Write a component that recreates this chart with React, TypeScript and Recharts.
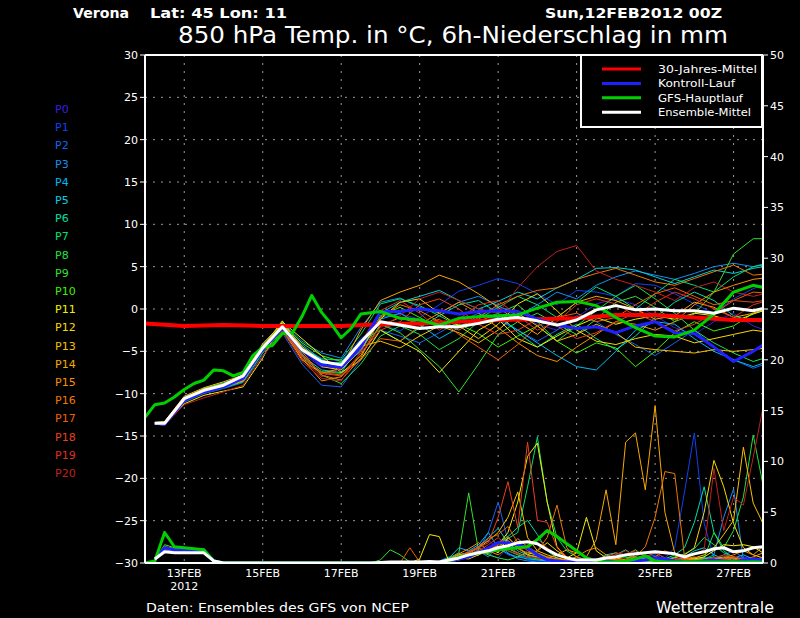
import React from 'react';
import { LineChart, Line, XAxis, YAxis, CartesianGrid, ReferenceLine } from 'recharts';

// forecast hours since 12FEB2012 00Z
const TEMP_HOURS = [6, 12, 24, 36, 48, 60, 72, 84, 96, 108, 120, 132, 144, 156, 168, 180, 192, 204, 216, 228, 240, 252, 264, 276, 288, 300, 312, 324, 336, 348, 360, 372, 384];
const GFS_HOURS = [0, 6, 12, 18, 24, 30, 36, 42, 48, 54, 60, 66, 72, 78, 84, 90, 96, 102, 108, 114, 120, 126, 132, 144, 156, 168, 180, 192, 204, 216, 228, 240, 252, 264, 276, 288, 300, 312, 324, 336, 348, 360, 372, 384];
const PRECIP_HOURS = [6, 12, 18, 24, 30, 36, 42, 48, 54, 60, 66, 72, 78, 84, 90, 96, 102, 108, 114, 120, 126, 132, 138, 144, 150, 156, 162, 168, 174, 180, 186, 192, 198, 204, 210, 216, 222, 228, 234, 240, 246, 252, 258, 264, 270, 276, 282, 288, 294, 300, 306, 312, 318, 324, 330, 336, 342, 348, 354, 360, 366, 372, 378, 384];
const GFS_PRECIP_HOURS = [0, ...PRECIP_HOURS];
const CLIM_HOURS = [0, 24, 48, 72, 96, 120, 144, 168, 192, 216, 240, 264, 288, 312, 336, 360, 384];

const DATE_TICKS = [24, 72, 120, 168, 216, 264, 312, 360];
const DATE_LABELS = ['13FEB', '15FEB', '17FEB', '19FEB', '21FEB', '23FEB', '25FEB', '27FEB'];
const TEMP_TICKS = [-30, -25, -20, -15, -10, -5, 0, 5, 10, 15, 20, 25, 30];
const PRECIP_TICKS = [0, 5, 10, 15, 20, 25, 30, 35, 40, 45, 50];

const MEMBER_NAMES = ['P0', 'P1', 'P2', 'P3', 'P4', 'P5', 'P6', 'P7', 'P8', 'P9', 'P10', 'P11', 'P12', 'P13', 'P14', 'P15', 'P16', 'P17', 'P18', 'P19', 'P20'];
const MEMBER_COLORS = ['#3a1ee0', '#1040f0', '#1466f0', '#1490f0', '#00b8f0', '#00d2e0', '#00e0a0', '#00e070', '#20e040', '#30e030', '#40f000', '#f0f000', '#f8d800', '#f8c000', '#f8a800', '#f89000', '#f07800', '#f06000', '#e84020', '#e03020', '#c02020'];

// 850 hPa temperature, members
const T_P0 = [-13.4, -13.6, -10.8, -9.7, -9.2, -8.4, -4.9, -2.3, -5.2, -6.9, -7.0, -4.6, -1.0, -0.6, -1.2, -2.0, -1.5, -0.8, 0.3, -0.5, -1.8, -2.5, -1.0, 0.6, 1.2, 0.5, -0.8, -2.2, -3.0, -1.5, -0.5, -2.0, -2.8];
const T_P1 = [-13.5, -13.4, -10.5, -9.4, -8.9, -8.0, -4.4, -1.9, -4.5, -5.8, -6.2, -3.5, -1.8, -2.6, -1.0, 0.5, 2.1, 2.8, 3.6, 3.0, 1.8, 0.5, 2.2, 2.0, 1.5, 3.0, 2.8, 1.8, 0.6, -0.5, 1.2, 2.4, 3.3];
const T_P2 = [-13.6, -13.7, -11.0, -10.0, -9.4, -8.7, -5.5, -2.8, -6.5, -9.0, -9.2, -6.0, -2.5, -3.2, -4.0, -2.8, -1.5, -0.5, -1.3, -2.5, -3.8, -2.5, -0.8, -1.5, -3.0, -4.2, -5.5, -4.0, -2.5, -4.5, -6.0, -7.0, -6.2];
const T_P3 = [-13.5, -13.5, -10.4, -9.5, -8.7, -8.0, -4.2, -1.6, -3.8, -5.2, -5.8, -2.2, 0.8, 1.3, 0.2, -0.5, 0.8, 1.5, 0.4, -0.8, 0.5, 2.0, 1.2, 2.8, 3.8, 4.5, 4.0, 3.5, 4.2, 5.0, 5.4, 5.0, 5.6];
const T_P4 = [-13.4, -13.3, -10.6, -9.4, -8.8, -8.3, -4.5, -2.0, -4.2, -6.0, -6.8, -5.0, -1.2, -0.5, -1.8, -3.5, -2.2, -0.8, -1.0, -2.5, -4.0, -5.5, -6.8, -7.2, -5.0, -2.5, -1.5, -1.8, -3.5, -5.0, -6.0, -6.8, -6.0];
const T_P5 = [-13.5, -13.6, -10.9, -9.8, -9.1, -8.5, -5.0, -2.4, -5.5, -7.2, -7.5, -4.2, -0.5, 0.8, 1.5, 2.2, 1.0, 0.0, 0.9, 2.0, 1.2, 2.5, 3.5, 4.8, 4.9, 4.6, 3.8, 3.0, 3.8, 4.6, 4.2, 4.8, 5.2];
const T_P6 = [-13.5, -13.5, -10.7, -9.7, -9.0, -8.1, -4.7, -2.2, -5.0, -6.5, -6.3, -3.8, -2.5, -3.8, -2.2, -0.8, 0.5, 1.0, -0.5, -2.8, -4.5, -3.0, -1.8, -3.5, -4.8, -3.2, -1.0, 0.8, 2.0, 1.0, -0.8, -1.5, -1.0];
const T_P7 = [-13.6, -13.4, -10.5, -9.5, -8.9, -8.3, -4.6, -2.1, -4.6, -5.9, -6.0, -3.0, 0.6, 1.2, 0.4, -0.8, -2.0, -1.2, 0.2, 1.5, 0.5, -1.0, 0.8, 2.6, 1.5, 0.0, 1.8, 3.5, 2.8, 2.0, 3.8, 5.0, 5.4];
const T_P8 = [-13.5, -13.5, -10.6, -9.6, -9.0, -8.2, -4.6, -2.0, -5.3, -7.8, -8.8, -6.5, -3.2, -2.0, -3.0, -4.8, -3.5, -1.5, -0.5, 0.5, -1.5, -3.8, -2.0, -0.2, 1.5, 2.8, 1.2, -0.5, -2.5, -4.0, -5.2, -6.2, -5.5];
const T_P9 = [-13.4, -13.6, -10.8, -9.8, -9.3, -8.6, -5.2, -2.6, -5.8, -7.4, -7.6, -5.5, -1.8, -2.8, -4.8, -6.8, -9.8, -6.5, -3.0, -1.5, -0.5, -1.8, -3.0, -1.2, 0.8, 1.5, 0.2, -1.5, -0.6, 2.0, 6.5, 8.3, 8.3];
const T_P10 = [-13.5, -13.5, -10.5, -9.4, -8.8, -8.0, -4.3, -1.8, -4.0, -5.5, -6.2, -4.8, -0.8, 0.2, -1.0, -2.2, -1.8, -2.9, -4.5, -3.2, -2.0, -3.8, -5.2, -4.0, -4.6, -6.8, -5.0, -2.8, -1.5, -2.6, -2.0, -0.5, 0.0];
const T_P11 = [-13.6, -13.7, -11.2, -10.2, -9.7, -9.2, -5.8, -1.5, -3.5, -5.5, -7.5, -6.0, -2.5, -3.8, -5.0, -7.5, -5.0, -2.5, -1.2, -3.5, -4.5, -3.2, -2.0, -1.0, -1.8, -1.2, -0.8, -1.2, -0.5, -0.8, -1.5, -0.6, 0.2];
const T_P12 = [-13.5, -13.5, -10.6, -9.7, -9.0, -8.2, -4.5, -1.4, -4.6, -6.8, -7.2, -4.8, -1.2, 0.8, 1.2, -0.5, -2.0, -3.5, -1.8, 0.6, 1.8, -0.2, -2.5, -3.8, -4.2, -3.5, -3.0, -3.2, -4.0, -3.5, -3.0, -2.5, -2.8];
const T_P13 = [-13.4, -13.3, -10.3, -9.3, -8.6, -7.8, -4.1, -1.7, -4.4, -6.2, -6.6, -4.4, -3.8, -4.6, -3.2, -2.0, -2.8, -4.0, -2.5, -0.5, -2.0, -3.8, -3.0, -1.8, -2.8, -4.5, -4.8, -5.0, -5.2, -4.8, -5.0, -4.8, -4.5];
const T_P14 = [-13.5, -13.6, -10.9, -9.9, -9.2, -8.5, -4.8, -2.3, -6.0, -7.6, -7.0, -2.5, 1.0, 2.0, 2.8, 4.0, 3.2, 1.8, 0.2, -1.5, -3.0, -1.0, 0.8, 1.5, 1.0, 0.0, -1.2, -0.8, 0.8, 0.2, -1.0, -0.5, 0.3];
const T_P15 = [-13.5, -13.4, -10.6, -9.6, -9.0, -8.3, -4.6, -2.2, -5.8, -8.5, -8.0, -5.5, -2.0, -1.0, -1.8, -0.5, 0.8, -0.5, -2.2, -4.0, -5.5, -6.2, -4.5, -3.0, -1.5, -1.8, -2.5, -1.5, 0.5, 2.0, 2.8, 3.5, 3.8];
const T_P16 = [-13.6, -13.6, -10.8, -9.8, -9.1, -8.4, -4.8, -2.4, -5.0, -7.8, -8.4, -5.8, -1.0, 0.5, -0.2, -1.5, -2.5, -1.0, 0.5, 1.5, 2.2, 2.5, 3.5, 4.2, 4.8, 4.0, 3.2, 2.8, 3.6, 4.4, 5.2, 4.0, 4.2];
const T_P17 = [-13.5, -13.5, -10.5, -9.5, -8.9, -8.0, -4.4, -2.0, -5.6, -7.5, -7.8, -6.0, -3.5, -3.8, -2.0, -1.2, -3.0, -4.5, -6.0, -4.2, -2.0, -1.0, -0.5, -1.5, -1.0, 0.5, 1.8, 2.5, 1.5, 0.5, 1.0, 2.0, 1.8];
const T_P18 = [-13.5, -13.4, -10.6, -9.5, -8.9, -8.1, -4.6, -2.1, -5.4, -7.6, -7.9, -5.2, -2.5, -1.5, 0.5, 1.2, 0.0, -1.8, -3.0, -2.5, -1.2, -2.0, -3.5, -2.8, -1.5, -0.5, -1.5, -2.6, -1.8, -0.5, 1.0, 0.8, 1.2];
const T_P19 = [-13.4, -13.5, -10.7, -9.7, -9.1, -8.3, -4.7, -2.3, -5.8, -8.0, -7.0, -4.0, -0.2, 1.0, -0.5, -2.5, -1.2, 0.5, 1.0, -0.8, -2.5, -1.5, 0.5, 1.2, 0.6, -0.8, 0.8, 2.0, 1.2, 0.0, -1.0, 0.5, 1.2];
const T_P20 = [-13.6, -13.7, -11.3, -10.5, -9.8, -9.0, -5.6, -2.6, -6.2, -8.2, -8.5, -5.0, -2.2, -0.8, 1.2, 2.0, 1.0, 0.0, -0.5, 2.5, 5.0, 6.8, 7.5, 4.5, 3.5, 2.8, 2.0, 1.0, 2.5, 3.2, 2.0, 1.5, 2.0];
const MEMBER_TEMPS = [T_P0, T_P1, T_P2, T_P3, T_P4, T_P5, T_P6, T_P7, T_P8, T_P9, T_P10, T_P11, T_P12, T_P13, T_P14, T_P15, T_P16, T_P17, T_P18, T_P19, T_P20];

const T_CLIM = [-1.7, -2.0, -1.9, -2.0, -2.0, -2.0, -1.8, -1.7, -1.5, -1.3, -1.2, -1.1, -0.7, -0.7, -1.0, -1.3, -1.3];
const T_CTRL = [-13.5, -13.6, -10.8, -9.8, -9.2, -8.2, -4.8, -2.2, -4.8, -6.6, -6.9, -4.5, -0.3, -0.3, 0.0, -0.2, -0.6, -0.3, -0.2, -0.3, -1.2, -1.9, -2.3, -2.1, -2.8, -2.0, -1.5, -2.8, -2.9, -4.5, -6.2, -5.0, -3.5];
const T_GFS = [-12.8, -11.3, -11.1, -10.4, -9.5, -8.8, -8.4, -7.2, -7.3, -7.9, -7.5, -5.5, -4.5, -4.3, -2.9, -2.9, -0.9, 1.6, -0.4, -1.8, -3.4, -2.3, -0.6, -0.3, -1.1, -1.3, -1.9, -1.1, -0.9, -0.8, -0.7, 0.1, 0.8, 0.9, 0.4, -1.0, -2.2, -3.2, -3.3, -2.5, -0.6, 2.0, 2.8, 2.3];
const T_MEAN = [-13.5, -13.5, -10.6, -9.6, -9.0, -7.9, -4.6, -2.1, -4.8, -6.2, -6.6, -3.9, -1.5, -1.9, -2.3, -2.1, -2.1, -1.7, -1.2, -1.0, -1.4, -1.9, -1.3, -0.1, 0.4, -0.1, 0.0, -0.2, -0.2, -0.5, 0.1, -0.2, 0.3];

// 6h precipitation (mm), members
const PR_P0 = [0.3, 1.6, 1.4, 1.3, 1.2, 1.3, 0.2, 0, 0, 0, 0, 0, 0, 0, 0, 0, 0, 0, 0, 0, 0, 0, 0, 0, 0, 0, 0, 0, 0, 0, 0.2, 0.6, 1.2, 1.8, 2.2, 1.5, 0.8, 0.5, 1.2, 0.6, 0.3, 0.2, 0.1, 0, 0.1, 0.3, 0.5, 0.4, 0.2, 0.1, 0.3, 0.6, 0.4, 0.2, 0.1, 0.3, 0.5, 0.2, 0.1, 0.3, 0.6, 0.4, 0.2, 0.3];
const PR_P1 = [0.2, 1.4, 1.2, 1.2, 1.1, 1.2, 0.1, 0, 0, 0, 0, 0, 0, 0, 0, 0, 0, 0, 0, 0, 0, 0, 0, 0, 0, 0, 0, 0, 0, 0, 0.4, 1.0, 0.6, 1.4, 0.9, 0.5, 1.6, 0.8, 0.3, 0.2, 0.1, 0, 0, 0.2, 0.4, 0.2, 0.1, 0, 0.2, 0.3, 0.6, 1.0, 0.5, 1.5, 7.0, 12.8, 3.9, 0.5, 0.2, 0.1, 0, 0.2, 0.3, 0.2];
const PR_P2 = [0.3, 1.5, 1.3, 1.4, 1.3, 1.2, 0.2, 0, 0, 0, 0, 0, 0, 0, 0, 0, 0, 0, 0, 0, 0, 0, 0, 0, 0, 0, 0, 0, 0, 0, 0.3, 0.8, 0.8, 1.3, 3.0, 6.0, 2.2, 0.8, 0.5, 0.3, 0.2, 0.1, 0, 0, 0.2, 0.4, 0.3, 0.1, 0, 0.2, 0.5, 0.8, 0.3, 0.1, 0.2, 0.4, 0.6, 0.3, 0.8, 1.2, 0.5, 0.3, 0.2, 0.4];
const PR_P3 = [0.3, 1.4, 1.3, 1.3, 1.2, 1.2, 0.2, 0, 0, 0, 0, 0, 0, 0, 0, 0, 0, 0, 0, 0, 0, 0, 0, 0, 0, 0, 0, 0, 0, 0.2, 0.6, 0.4, 0.8, 1.2, 0.6, 1.8, 1.0, 0.4, 0.2, 0.1, 0, 0, 0.2, 0.1, 0, 0.3, 0.5, 0.2, 0.1, 0, 0.2, 0.4, 0.3, 0.1, 0.2, 0.5, 0.4, 0.8, 4.5, 7.3, 0.3, 0.4, 0.5, 0.6];
const PR_P4 = [0.3, 1.5, 1.4, 1.2, 1.2, 1.3, 0.2, 0, 0, 0, 0, 0, 0, 0, 0, 0, 0, 0, 0, 0, 0, 0, 0, 0, 0, 0, 0, 0, 0, 0, 0.5, 1.5, 1.2, 1.8, 3.0, 1.5, 0.9, 0.6, 0.4, 0.3, 0.2, 0.1, 0, 0, 0.1, 0.2, 0.3, 0.5, 0.8, 0.6, 0.4, 0.2, 0.1, 0.3, 0.5, 0.4, 0.2, 0.1, 0.3, 0.5, 0.8, 0.4, 0.2, 0.1];
const PR_P5 = [0.2, 1.3, 1.2, 1.2, 1.1, 1.1, 0.1, 0, 0, 0, 0, 0, 0, 0, 0, 0, 0, 0, 0, 0, 0, 0, 0, 0, 0, 0, 0, 0, 0, 0, 0.3, 0.8, 1.0, 1.6, 2.5, 3.4, 2.0, 1.2, 0.8, 0.5, 0.3, 0.2, 0.1, 0, 0, 0.2, 0.8, 1.0, 0.6, 0.4, 0.2, 0.1, 0.2, 0.3, 0.6, 1.2, 1.5, 0.8, 0.4, 0.2, 0.1, 0.2, 0.3, 0.3];
const PR_P6 = [0.3, 1.5, 1.3, 1.3, 1.2, 1.3, 0.2, 0, 0, 0, 0, 0, 0, 0, 0, 0, 0, 0, 0, 0, 0, 0, 0, 0, 0, 0, 0, 0, 0, 0, 0.2, 0.5, 0.8, 1.2, 1.5, 2.0, 2.6, 3.5, 4.2, 2.8, 1.2, 0.5, 0.2, 0.1, 0, 0.2, 0.5, 0.8, 1.3, 0.6, 0.3, 0.2, 0.4, 0.8, 1.5, 4.0, 7.5, 3.0, 1.2, 0.5, 0.3, 0.2, 0.4, 0.3];
const PR_P7 = [0.3, 1.4, 1.2, 1.3, 1.2, 1.2, 0.2, 0, 0, 0, 0, 0, 0, 0, 0, 0, 0, 0, 0, 0, 0, 0, 0, 0, 0, 0, 0, 0, 0, 0, 0.2, 0.4, 0.8, 1.0, 1.4, 1.8, 2.4, 3.0, 7.5, 12.4, 6.0, 2.5, 1.2, 0.6, 0.3, 0.2, 0.4, 0.6, 0.8, 0.5, 0.3, 0.2, 0.3, 0.6, 0.9, 1.4, 2.5, 1.8, 1.0, 0.6, 0.4, 0.3, 0.2, 0.2];
const PR_P8 = [0.3, 1.6, 1.4, 1.3, 1.3, 1.3, 0.2, 0, 0, 0, 0, 0, 0, 0, 0, 0, 0, 0, 0, 0, 0, 0, 0, 0, 0, 0, 0, 0, 0, 0, 0.2, 0.4, 0.6, 0.9, 1.2, 1.6, 1.2, 0.8, 0.6, 0.9, 0.6, 0.3, 0.1, 0, 0, 0.1, 0.2, 0.3, 0.8, 1.3, 0.6, 0.3, 0.2, 0.1, 0.2, 0.3, 0.5, 3.0, 1.5, 3.2, 6.5, 12.6, 7.7, 5.0];
const PR_P9 = [0.3, 1.4, 1.3, 1.2, 1.2, 1.2, 0.2, 0, 0, 0, 0, 0, 0, 0, 0, 0, 0, 0, 0, 0, 0, 0, 0, 0.3, 1.3, 0.8, 0.1, 0, 0, 0.1, 0.5, 1.0, 6.9, 1.2, 0.8, 0.5, 0.3, 0.6, 1.0, 0.8, 0.4, 0.2, 0.1, 0, 0, 0.1, 0.2, 0.5, 0.6, 0.4, 0.2, 0.1, 0.3, 0.5, 0.3, 0.2, 0.1, 0.2, 0.4, 0.6, 0.3, 0.2, 0.1, 0.2];
const PR_P10 = [0.3, 1.8, 1.5, 1.4, 1.3, 1.4, 0.2, 0, 0, 0, 0, 0, 0, 0, 0, 0, 0, 0, 0, 0, 0, 0, 0, 0, 0, 0, 0, 0, 0, 0, 0.3, 0.6, 1.0, 0.8, 1.5, 2.0, 1.4, 1.0, 0.6, 0.4, 0.3, 0.2, 0, 0, 0.1, 0.2, 0.4, 0.3, 0.2, 0.1, 0, 0.1, 0.2, 0.3, 0.1, 0.2, 0.4, 0.6, 0.3, 0.2, 0.1, 0.2, 0.5, 0.4];
const PR_P11 = [0.3, 1.5, 1.3, 1.3, 1.2, 1.3, 0.2, 0, 0, 0, 0, 0, 0, 0, 0, 0, 0, 0, 0, 0, 0, 0, 0, 0, 0, 0, 0, 0.4, 2.8, 2.6, 0.1, 0.3, 0.6, 0.8, 1.2, 1.8, 3.0, 6.0, 10.5, 11.8, 6.0, 1.6, 0.5, 1.0, 4.5, 1.2, 0.5, 0.3, 0.2, 0.1, 0.2, 0.3, 0.2, 0.1, 0.2, 0.4, 0.6, 1.2, 1.8, 1.7, 1.8, 1.6, 1.0, 0.8];
const PR_P12 = [0.3, 1.4, 1.3, 1.3, 1.2, 1.2, 0.2, 0, 0, 0, 0, 0, 0, 0, 0, 0, 0, 0, 0, 0, 0, 0, 0, 0, 0, 0, 0, 0, 0, 0, 0.2, 0.5, 0.4, 0.8, 1.5, 1.0, 2.5, 1.6, 0.8, 1.2, 2.0, 1.2, 0.6, 0.3, 0.2, 0.1, 0.3, 0.5, 0.3, 0.2, 0.4, 0.6, 0.3, 0.5, 0.8, 1.5, 5.0, 10.1, 7.5, 3.9, 1.5, 0.8, 0.5, 0.4];
const PR_P13 = [0.3, 1.5, 1.4, 1.3, 1.3, 1.3, 0.2, 0, 0, 0, 0, 0, 0, 0, 0, 0, 0, 0, 0, 0, 0, 0, 0, 0, 0, 0, 0, 0, 0, 0, 0.3, 0.8, 1.0, 1.5, 2.2, 3.0, 4.5, 7.0, 2.5, 1.2, 0.8, 0.5, 0.3, 0.2, 0.1, 0.1, 0.3, 0.2, 0.1, 0.2, 0.3, 0.2, 0.1, 0.2, 0.3, 0.5, 0.8, 1.5, 2.8, 4.2, 11.4, 5.9, 3.9, 3.0];
const PR_P14 = [0.3, 1.5, 1.3, 1.4, 1.3, 1.3, 0.2, 0, 0, 0, 0, 0, 0, 0, 0, 0, 0, 0, 0, 0, 0, 0, 0, 0, 0, 0, 0, 0, 0, 0, 0.2, 0.5, 0.8, 1.2, 0.9, 1.6, 2.2, 1.5, 0.8, 0.6, 0.5, 0.8, 1.3, 1.0, 0.6, 2.3, 7.2, 1.8, 11.9, 12.8, 7.2, 15.5, 5.0, 1.0, 0.5, 0.3, 0.2, 0.4, 0.6, 0.5, 0.3, 0.6, 1.0, 1.2];
const PR_P15 = [0.3, 1.6, 1.4, 1.3, 1.2, 1.3, 0.2, 0, 0, 0, 0, 0, 0, 0, 0, 0, 0, 0, 0, 0, 0, 0, 0, 0, 0, 0, 0, 0, 0, 0, 0.4, 0.9, 1.4, 2.0, 1.2, 0.8, 1.5, 2.4, 1.6, 1.0, 0.6, 0.4, 0.3, 0.6, 1.2, 1.5, 0.8, 0.4, 0.2, 0.1, 0.3, 0.5, 0.3, 0.2, 0.4, 0.6, 0.3, 0.2, 0.5, 0.8, 1.2, 0.8, 1.6, 2.8];
const PR_P16 = [0.3, 1.4, 1.2, 1.3, 1.2, 1.2, 0.2, 0, 0, 0, 0, 0, 0, 0, 0, 0, 0, 0, 0, 0, 0, 0, 0, 0, 0, 0, 0, 0, 0, 0, 0.2, 0.6, 0.9, 1.5, 1.0, 1.8, 2.6, 1.4, 1.0, 1.2, 2.5, 5.7, 1.5, 0.6, 0.3, 0.2, 0.4, 0.3, 0.4, 0.6, 1.6, 4.5, 9.0, 8.8, 0.6, 0.3, 0.2, 0.1, 0.3, 0.4, 0.2, 0.3, 0.5, 0.4];
const PR_P17 = [0.3, 1.5, 1.3, 1.3, 1.2, 1.2, 0.2, 0, 0, 0, 0, 0, 0, 0, 0, 0, 0, 0, 0, 0, 0, 0, 0, 0, 0, 0, 1.5, 0.1, 0, 0, 0.3, 0.7, 1.1, 1.6, 2.4, 2.8, 3.6, 2.0, 1.2, 0.8, 0.5, 0.3, 0.2, 0.1, 0.2, 0.4, 0.6, 1.0, 0.8, 0.5, 0.3, 0.6, 1.2, 0.8, 0.4, 0.2, 0.1, 0.2, 0.4, 0.6, 0.3, 0.2, 0.4, 0.3];
const PR_P18 = [0.3, 1.4, 1.3, 1.3, 1.2, 1.3, 0.2, 0, 0, 0, 0, 0, 0, 0, 0, 0, 0, 0, 0, 0, 0, 0, 0, 0, 0, 0, 0, 0, 0, 0, 0.3, 0.6, 1.0, 1.5, 2.0, 4.5, 8.0, 3.5, 11.9, 4.2, 4.0, 1.5, 0.6, 0.3, 0.2, 0.3, 0.5, 0.4, 0.2, 0.4, 0.6, 1.0, 0.5, 0.3, 0.2, 0.1, 0.2, 0.3, 0.4, 0.2, 0.3, 0.5, 0.4, 0.6];
const PR_P19 = [0.3, 1.5, 1.3, 1.3, 1.2, 1.3, 0.2, 0, 0, 0, 0, 0, 0, 0, 0, 0, 0, 0, 0, 0, 0, 0, 0, 0, 0, 0, 0, 0, 0, 0, 0.2, 0.5, 0.8, 1.2, 1.8, 2.5, 1.6, 1.0, 1.8, 2.4, 1.5, 0.8, 0.4, 0.2, 0.1, 0.2, 0.3, 0.6, 0.9, 1.2, 0.6, 0.3, 0.2, 0.4, 0.3, 0.2, 0.3, 0.5, 0.8, 0.6, 0.4, 0.3, 0.5, 0.8];
const PR_P20 = [0.3, 1.4, 1.2, 1.2, 1.1, 1.2, 0.2, 0, 0, 0, 0, 0, 0, 0, 0, 0, 0, 0, 0, 0, 0, 0, 0, 0, 0, 0, 0, 0, 0, 0, 0.2, 0.5, 0.7, 1.0, 1.4, 1.8, 1.2, 0.9, 0.6, 0.5, 0.3, 0.2, 0.1, 0, 0.1, 0.3, 0.5, 0.8, 1.2, 0.8, 0.5, 0.3, 0.2, 0.4, 0.6, 0.9, 1.3, 9.3, 3.2, 6.5, 5.7, 10.4, 15.3, 16.0];
const MEMBER_PRECIP = [PR_P0, PR_P1, PR_P2, PR_P3, PR_P4, PR_P5, PR_P6, PR_P7, PR_P8, PR_P9, PR_P10, PR_P11, PR_P12, PR_P13, PR_P14, PR_P15, PR_P16, PR_P17, PR_P18, PR_P19, PR_P20];

const PR_CTRL = [0.3, 1.5, 1.3, 1.3, 1.2, 1.3, 0.2, 0, 0, 0, 0, 0, 0, 0, 0, 0, 0, 0, 0, 0, 0, 0, 0, 0, 0, 0, 0, 0, 0, 0, 0.2, 0.4, 0.6, 1.0, 1.5, 2.0, 2.0, 1.8, 1.5, 0.8, 0.3, 0.2, 0.1, 0.1, 0.2, 0.3, 0.2, 0.1, 0.1, 0.2, 0.3, 0.5, 0.4, 0.2, 0.1, 0.1, 0.2, 0.3, 0.2, 0.1, 0.3, 0.4, 0.3, 0.2];
const PR_MEAN = [0.4, 1.1, 1.0, 1.0, 1.0, 1.0, 0.2, 0, 0, 0, 0, 0, 0, 0, 0, 0, 0, 0, 0, 0, 0, 0, 0, 0.05, 0.1, 0.1, 0.1, 0.1, 0.15, 0.1, 0.3, 0.5, 0.8, 1.0, 1.2, 1.5, 1.7, 2.0, 2.1, 1.9, 1.3, 0.8, 0.5, 0.3, 0.3, 0.3, 0.5, 0.6, 0.8, 0.9, 1.0, 1.1, 1.0, 0.9, 0.6, 0.9, 1.1, 1.4, 1.5, 1.1, 1.2, 1.5, 1.6, 1.6];
const PR_GFS = [0, 0.2, 3.0, 1.6, 1.5, 1.4, 1.3, 0.2, 0, 0, 0, 0, 0, 0, 0, 0, 0, 0, 0, 0, 0, 0, 0, 0, 0, 0, 0, 0, 0, 0, 0, 0.2, 0.6, 0.8, 1.0, 1.1, 1.3, 1.4, 1.5, 1.6, 2.3, 3.2, 2.6, 1.9, 1.2, 0.5, 0.2, 0.1, 0.1, 0.2, 0.4, 0.7, 0.2, 0.1, 0.1, 0.1, 0.1, 0.1, 0.1, 0.1, 0.1, 0.1, 0.1, 0.1, 0.1];

const LEGEND_ITEMS = [
  { label: '30-Jahres-Mittel', color: '#ff0000', width: 99 },
  { label: 'Kontroll-Lauf', color: '#2020ff', width: 77 },
  { label: 'GFS-Hauptlauf', color: '#00d000', width: 85 },
  { label: 'Ensemble-Mittel', color: '#ffffff', width: 93 },
];

const FONT = '"DejaVu Sans", sans-serif';

const series = (hours: number[], values: number[]) => hours.map((h, i) => ({ h, v: values[i] }));

const minusFmt = (v: number) => (v < 0 ? '\u2212' + Math.abs(v) : String(v));

const DateTick = (props: any) => {
  const { x, payload } = props;
  const idx = DATE_TICKS.indexOf(payload.value);
  return (
    <g>
      <text x={x} y={577} textAnchor="middle" fill="#fff" fontSize={11} fontFamily={FONT}>
        {DATE_LABELS[idx]}
      </text>
      {idx === 0 && (
        <text x={x} y={590} textAnchor="middle" fill="#fff" fontSize={11} fontFamily={FONT}>
          2012
        </text>
      )}
    </g>
  );
};

const App = () => {
  const line = (key: string, data: any[], axis: string, color: string, width: number) => (
    <Line
      key={key}
      data={data}
      dataKey="v"
      xAxisId="x"
      yAxisId={axis}
      stroke={color}
      strokeWidth={width}
      dot={false}
      activeDot={false}
      isAnimationActive={false}
      strokeLinejoin="round"
    />
  );

  return (
    <div style={{ position: 'absolute', left: 0, top: 0, width: 800, height: 618, background: '#000', overflow: 'hidden' }}>
      <LineChart width={800} height={618} margin={{ top: 55, right: 0, bottom: 0, left: 100 }}>
        <CartesianGrid xAxisId="x" yAxisId="t" stroke="#9a9a9a" strokeDasharray="2 6" />
        <XAxis
          xAxisId="x"
          type="number"
          dataKey="h"
          domain={[0, 378]}
          allowDataOverflow
          ticks={DATE_TICKS}
          interval={0}
          tick={<DateTick />}
          tickLine={false}
          axisLine={{ stroke: '#fff', strokeWidth: 2 }}
          height={55}
        />
        <YAxis
          yAxisId="t"
          orientation="left"
          domain={[-30, 30]}
          ticks={TEMP_TICKS}
          interval={0}
          width={45}
          tickSize={5}
          tickFormatter={minusFmt}
          tick={{ fill: '#fff', fontSize: 11, fontFamily: FONT }}
          tickLine={{ stroke: '#fff' }}
          axisLine={{ stroke: '#fff', strokeWidth: 2 }}
          allowDataOverflow
        />
        <YAxis
          yAxisId="p"
          orientation="right"
          domain={[0, 50]}
          ticks={PRECIP_TICKS}
          interval={0}
          width={37}
          tickSize={5}
          tick={{ fill: '#fff', fontSize: 11, fontFamily: FONT }}
          tickLine={{ stroke: '#fff' }}
          axisLine={{ stroke: '#fff', strokeWidth: 2 }}
          allowDataOverflow
        />
        <ReferenceLine xAxisId="x" yAxisId="t" y={30} stroke="#fff" strokeWidth={2} />

        {MEMBER_TEMPS.map((vals, i) => line('t' + i, series(TEMP_HOURS, vals), 't', MEMBER_COLORS[i], 1))}
        {MEMBER_PRECIP.map((vals, i) => line('p' + i, series(PRECIP_HOURS, vals), 'p', MEMBER_COLORS[i], 1))}

        {line('clim', series(CLIM_HOURS, T_CLIM), 't', '#ff0000', 4)}
        {line('ctrlT', series(TEMP_HOURS, T_CTRL), 't', '#2020ff', 3)}
        {line('ctrlP', series(PRECIP_HOURS, PR_CTRL), 'p', '#2020ff', 3)}
        {line('gfsT', series(GFS_HOURS, T_GFS), 't', '#00d000', 3)}
        {line('gfsP', series(GFS_PRECIP_HOURS, PR_GFS), 'p', '#00d000', 3)}
        {line('meanT', series(TEMP_HOURS, T_MEAN), 't', '#ffffff', 3)}
        {line('meanP', series(PRECIP_HOURS, PR_MEAN), 'p', '#ffffff', 3)}
      </LineChart>

      <svg width={800} height={618} style={{ position: 'absolute', left: 0, top: 0, pointerEvents: 'none' }} fontFamily={FONT}>
        <text x={73} y={18} fill="#fff" fontSize={14} fontWeight="bold" textLength={56} lengthAdjust="spacingAndGlyphs">Verona</text>
        <text x={150} y={18} fill="#fff" fontSize={14} fontWeight="bold" textLength={137} lengthAdjust="spacingAndGlyphs">Lat: 45 Lon: 11</text>
        <text x={545} y={18} fill="#fff" fontSize={14} fontWeight="bold" textLength={177} lengthAdjust="spacingAndGlyphs">Sun,12FEB2012 00Z</text>
        <text x={178} y={43} fill="#fff" fontSize={23} textLength={550} lengthAdjust="spacingAndGlyphs">850 hPa Temp. in °C, 6h-Niederschlag in mm</text>

        <rect x={581} y={55} width={181} height={72} fill="#000" stroke="#fff" strokeWidth={2} />
        {LEGEND_ITEMS.map((item, i) => {
          const cy = 69 + i * 14.4;
          return (
            <g key={item.label}>
              <line x1={602} x2={641} y1={cy} y2={cy} stroke={item.color} strokeWidth={3} />
              <text x={658} y={cy + 4} fill="#fff" fontSize={11} textLength={item.width} lengthAdjust="spacingAndGlyphs">{item.label}</text>
            </g>
          );
        })}

        {MEMBER_NAMES.map((name, i) => (
          <text key={name} x={55} y={113 + i * 18.2} fill={MEMBER_COLORS[i]} fontSize={11}>{name}</text>
        ))}

        <text x={146} y={612} fill="#fff" fontSize={13} textLength={263} lengthAdjust="spacingAndGlyphs">Daten: Ensembles des GFS von NCEP</text>
        <text x={656} y={613} fill="#fff" fontSize={16} textLength={118} lengthAdjust="spacingAndGlyphs">Wetterzentrale</text>
      </svg>
    </div>
  );
};

export default App;
